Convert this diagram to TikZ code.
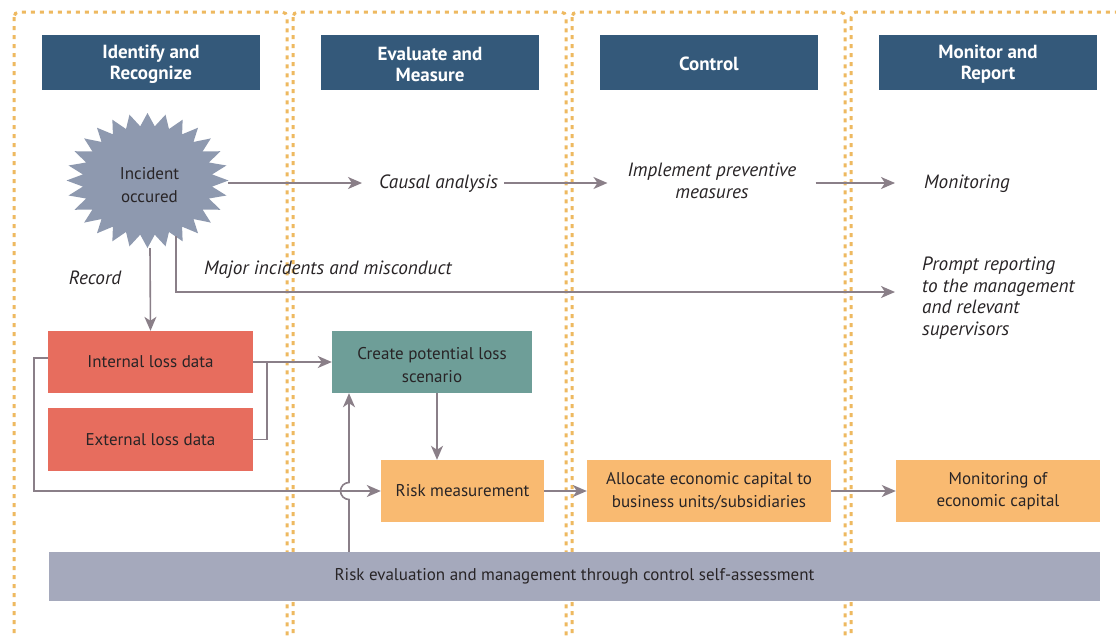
\documentclass[tikz,border=0pt]{standalone}
\usepackage{fontspec}
\setmainfont{PT Sans}
\usetikzlibrary{arrows.meta,calc}
\definecolor{hdr}{RGB}{52,89,122}
\definecolor{dotc}{RGB}{238,185,96}
\definecolor{starc}{RGB}{142,153,175}
\definecolor{redb}{RGB}{231,109,94}
\definecolor{tealb}{RGB}{110,158,152}
\definecolor{orng}{RGB}{249,186,113}
\definecolor{barc}{RGB}{165,169,188}
\definecolor{arr}{RGB}{138,127,136}
\definecolor{txt}{RGB}{40,36,38}
\tikzset{
  colframe/.style={draw=dotc, line width=3pt, dash pattern=on 4pt off 5pt, rounded corners=5pt},
  hdrbox/.style={fill=hdr, minimum width=218pt, minimum height=55pt, inner sep=0pt},
  hdrtxt/.style={text=white, inner sep=0pt, align=center, yshift=-2pt, font=\bfseries\fontsize{19}{21}\selectfont},
  body/.style={text=txt, font=\fontsize{17}{22.5}\selectfont},
  itxt/.style={text=txt, inner sep=0pt, font=\itshape\fontsize{19.2}{21.5}\selectfont},
  boxx/.style={body, inner sep=0pt, align=center},
  line/.style={draw=arr, line width=1.6pt},
  conn/.style={line, -{Stealth[length=14pt,width=12pt,inset=4pt]}},
}
\begin{document}
\begin{tikzpicture}[x=1pt,y=-1pt]
\useasboundingbox (0,0) rectangle (1116,635);
\clip (0,0) rectangle (1116,635);
\fill[white] (0,0) rectangle (1116,635);
% column frames
\foreach \l/\r in {14/287,293/566,572/845,851/1135}
  \draw[colframe] (\l,12) rectangle (\r,642);
% headers
\node[hdrbox, label={[hdrtxt]center:Identify and\\Recognize}] (h1) at (151,62.5) {};
\node[hdrbox, label={[hdrtxt]center:Evaluate and\\Measure}] (h2) at (430,62.5) {};
\node[hdrbox, label={[hdrtxt, yshift=1pt]center:Control}] (h3) at (709,62.5) {};
\node[hdrbox, label={[hdrtxt]center:Monitor and\\Report}] (h4) at (988,62.5) {};
% starburst
\fill[starc] plot[samples=57, domain=0:56, variable=\k]
  ({147.5+(73+8*cos(180*\k))*cos(\k*6.4285714)}, {180.5+(61+6.5*cos(180*\k))*sin(\k*6.4285714)}) -- cycle;
\node[boxx] (inc) at (149.5,185) {Incident\\occured};
\coordinate (incE) at (228,183);
\coordinate (incS) at (150,248);
\coordinate (incM) at (176,236);
% texts
\node[itxt, anchor=west] (causal) at (379,184) {Causal analysis};
\node[itxt, align=center] (impl) at (712,181) {Implement preventive\\measures};
\node[itxt, anchor=west] (moni) at (924,184) {Monitoring};
\node[itxt] (rec) at (95,278) {Record};
\node[itxt, anchor=west] (major) at (204,270) {Major incidents and misconduct};
\node[itxt, anchor=west, align=left] (prompt) at (922,298) {Prompt reporting\\to the management\\and relevant\\supervisors};
% boxes
\node[boxx, fill=redb, minimum width=205pt, minimum height=62pt] (intl) at (150.5,362) {Internal loss data};
\node[boxx, fill=redb, minimum width=205pt, minimum height=63pt] (extl) at (150.5,439.5) {External loss data};
\node[fill=tealb, inner sep=0pt, minimum width=200pt, minimum height=62pt,
  label={[boxx, yshift=-3pt]center:Create potential loss\\scenario}] (create) at (432,362) {};
\node[boxx, fill=orng, minimum width=163pt, minimum height=62pt] (risk) at (462.5,491) {Risk measurement};
\node[boxx, fill=orng, minimum width=244pt, minimum height=62pt] (alloc) at (709,491) {Allocate economic capital to\\business units/subsidiaries};
\node[boxx, fill=orng, minimum width=204pt, minimum height=62pt] (moneco) at (998,491) {Monitoring of\\economic capital};
\node[boxx, fill=barc, minimum width=1051pt, minimum height=49pt] (bar) at (574.5,576.5) {Risk evaluation and management through control self-assessment};
% connectors top
\coordinate (ay) at (0,183);
\draw[conn] (incE) -- ([xshift=-17pt]causal.west |- ay);
\draw[conn] ([xshift=6pt]causal.east |- ay) -- ([xshift=-20pt]impl.west |- ay);
\draw[conn] ([xshift=19pt]impl.east |- ay) -- ([xshift=-29pt]moni.west |- ay);
\draw[conn] (incM) |- ([xshift=-27pt]prompt.west |- 0,292);
\draw[conn] (incS) -- (intl.north);
% loss data connectors
\coordinate (j) at (267,362);
\draw[conn] (intl.east) -- (j -| create.west);
\draw[line] (extl.east) -| (j);
\draw[conn] ([yshift=4pt]intl.west) -| (34,491) -- (risk.west);
\coordinate (vx) at (349,0);
\draw[conn] (bar.north -| vx) -- ([yshift=-8.5pt]vx |- risk.west)
  arc[start angle=270, end angle=90, radius=8.5pt] -- (vx |- create.south);
\draw[conn] ([xshift=5pt]create.south) -- ([xshift=5pt]create.south |- risk.north);
\draw[conn] (risk.east) -- (alloc.west);
\draw[conn] (alloc.east) -- (moneco.west);
\end{tikzpicture}
\end{document}
